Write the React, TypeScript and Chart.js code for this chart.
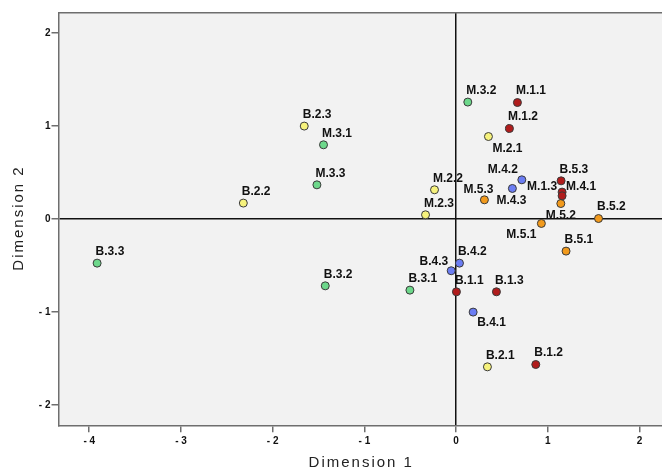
import React, { useEffect, useRef } from "react";
import { Chart, registerables } from "chart.js";

Chart.register(...registerables);

// ---- data ----
const redLabels = ["M.1.1", "M.1.2", "B.5.3", "M.1.3", "M.4.1", "B.1.1", "B.1.3", "B.1.2"];
const redX = [0.668, 0.581, 1.144, 1.155, 1.155, 0.003, 0.439, 0.868];
const redY = [1.251, 0.972, 0.41, 0.289, 0.249, -0.782, -0.782, -1.563];

const yellowLabels = ["M.2.1", "M.2.2", "M.2.3", "B.2.3", "B.2.2", "B.2.1"];
const yellowX = [0.352, -0.236, -0.334, -1.656, -2.32, 0.341];
const yellowY = [0.886, 0.314, 0.045, 0.998, 0.171, -1.588];

const greenLabels = ["M.3.2", "M.3.1", "M.3.3", "B.3.3", "B.3.2", "B.3.1"];
const greenX = [0.127, -1.446, -1.518, -3.914, -1.427, -0.504];
const greenY = [1.256, 0.797, 0.367, -0.474, -0.718, -0.764];

const blueLabels = ["M.4.2", "M.4.3", "B.4.2", "B.4.3", "B.4.1"];
const blueX = [0.716, 0.613, 0.036, -0.054, 0.185];
const blueY = [0.421, 0.328, -0.474, -0.556, -1.0];

const orangeLabels = ["M.5.3", "M.5.2", "B.5.2", "M.5.1", "B.5.1"];
const orangeX = [0.308, 1.141, 1.552, 0.929, 1.198];
const orangeY = [0.206, 0.166, 0.005, -0.048, -0.345];

const xTicks = [-4, -3, -2, -1, 0, 1, 2];
const yTicks = [-2, -1, 0, 1, 2];
const xTitle = "Dimension 1";
const yTitle = "Dimension 2";

// ---- label placement (pixel offsets from point) ----
const labelPlacement: Record<string, [number, number, string]> = {
  "M.2.1": [4, 12, "left"],
  "M.4.2": [-4, -10, "right"],
  "M.4.3": [-16, 12, "left"],
  "M.5.3": [-21, -10, "left"],
  "M.1.3": [-5, -5, "right"],
  "M.4.1": [4, -9, "left"],
  "M.5.2": [-15, 12, "left"],
  "M.5.1": [-35, 11, "left"],
  "B.4.3": [-3, -9, "right"],
  "B.4.1": [4, 11, "left"],
};
const defaultPlacement: [number, number, string] = [-1.5, -11.5, "left"];

const groups = [
  { labels: redLabels, xs: redX, ys: redY, color: "#b01c1c" },
  { labels: yellowLabels, xs: yellowX, ys: yellowY, color: "#f6f27c" },
  { labels: greenLabels, xs: greenX, ys: greenY, color: "#6dd88b" },
  { labels: blueLabels, xs: blueX, ys: blueY, color: "#6b7df3" },
  { labels: orangeLabels, xs: orangeX, ys: orangeY, color: "#f29a1c" },
];

const FONT = "'Liberation Sans', Arial, sans-serif";
const fmt = (v: number) => (v < 0 ? "- " + Math.abs(v) : String(v));

const bgPlugin = {
  id: "bgPlugin",
  beforeDraw(chart: any) {
    const { ctx, chartArea: a } = chart;
    ctx.save();
    ctx.fillStyle = "#f2f2f2";
    ctx.fillRect(a.left, a.top, a.right - a.left, a.bottom - a.top);
    ctx.restore();
  },
  beforeDatasetsDraw(chart: any) {
    const { ctx, chartArea: a } = chart;
    ctx.save();
    ctx.strokeStyle = "#6e6e6e";
    ctx.lineWidth = 1.5;
    ctx.beginPath();
    ctx.moveTo(a.left, a.top);
    ctx.lineTo(a.right, a.top);
    ctx.stroke();
    ctx.restore();
  },
  afterDatasetsDraw(chart: any) {
    const { ctx, chartArea: a } = chart;
    ctx.save();
    ctx.font = "bold 12px " + FONT;
    ctx.fillStyle = "#111";
    ctx.textBaseline = "middle";
    chart.data.datasets.forEach((ds: any, i: number) => {
      const meta = chart.getDatasetMeta(i);
      meta.data.forEach((el: any, j: number) => {
        const name = ds.pointLabels[j];
        const [dx, dy, align] = labelPlacement[name] || defaultPlacement;
        ctx.textAlign = align;
        ctx.fillText(name, el.x + dx, el.y + dy);
      });
    });
    ctx.restore();

    // axis titles with letter spacing
    ctx.save();
    ctx.font = "15px " + FONT;
    ctx.fillStyle = "#222";
    ctx.textBaseline = "middle";
    ctx.textAlign = "center";
    try {
      (ctx as any).letterSpacing = "2px";
    } catch (e) {}
    ctx.fillText(xTitle, (a.left + a.right) / 2 + 1, 462.5);
    ctx.translate(19, (a.top + a.bottom) / 2);
    ctx.rotate(-Math.PI / 2);
    ctx.fillText(yTitle, 1, 0);
    ctx.restore();
  },
};

export default function App() {
  const ref = useRef<HTMLCanvasElement | null>(null);
  useEffect(() => {
    if (!ref.current) return;
    const chart = new Chart(ref.current, {
      type: "scatter",
      data: {
        datasets: groups.map((g) => ({
          data: g.xs.map((x, i) => ({ x, y: g.ys[i] })),
          pointLabels: g.labels,
          backgroundColor: g.color,
          borderColor: "#3a3a3a",
          borderWidth: 1,
          pointRadius: 4,
          pointHoverRadius: 4,
        })) as any,
      },
      options: {
        animation: false,
        responsive: false,
        devicePixelRatio: 1,
        layout: { autoPadding: false, padding: { top: 12.7, left: 0, right: 0, bottom: 0 } },
        plugins: { legend: { display: false }, tooltip: { enabled: false } },
        scales: {
          x: {
            type: "linear",
            min: -4.335,
            max: 2.244,
            afterBuildTicks: (s: any) => {
              s.ticks = xTicks.map((v) => ({ value: v }));
            },
            afterFit: (s: any) => {
              s.height = 45.7;
              s.paddingLeft = 0;
              s.paddingRight = 0;
            },
            ticks: {
              callback: (v: any) => fmt(Number(v)),
              font: { family: FONT, size: 10, weight: "bold" },
              color: "#111",
              padding: 3,
              maxRotation: 0,
              autoSkip: false,
            },
            grid: {
              color: (c: any) => (c.tick && c.tick.value === 0 ? "#111" : "rgba(0,0,0,0)"),
              lineWidth: 1.5,
              tickColor: "#6e6e6e",
              tickLength: 7,
              tickWidth: 1.5,
            },
            border: { display: true, color: "#6e6e6e", width: 1.5 },
            title: { display: false },
          },
          y: {
            type: "linear",
            min: -2.216,
            max: 2.216,
            afterBuildTicks: (s: any) => {
              s.ticks = yTicks.map((v) => ({ value: v }));
            },
            afterFit: (s: any) => {
              s.width = 58.5;
              s.paddingTop = 0;
              s.paddingBottom = 0;
            },
            ticks: {
              callback: (v: any) => fmt(Number(v)),
              font: { family: FONT, size: 10, weight: "bold" },
              color: "#111",
              padding: 1,
              autoSkip: false,
            },
            grid: {
              color: (c: any) => (c.tick && c.tick.value === 0 ? "#111" : "rgba(0,0,0,0)"),
              lineWidth: 1.5,
              tickColor: "#6e6e6e",
              tickLength: 7,
              tickWidth: 1.5,
            },
            border: { display: true, color: "#6e6e6e", width: 1.5 },
            title: { display: false },
          },
        },
      },
      plugins: [bgPlugin],
    });
    return () => chart.destroy();
  }, []);
  return (
    <div style={{ position: "fixed", left: 0, top: 0, width: 662, height: 471, background: "#fff" }}>
      <canvas ref={ref} width={662} height={471} style={{ display: "block" }} />
    </div>
  );
}
